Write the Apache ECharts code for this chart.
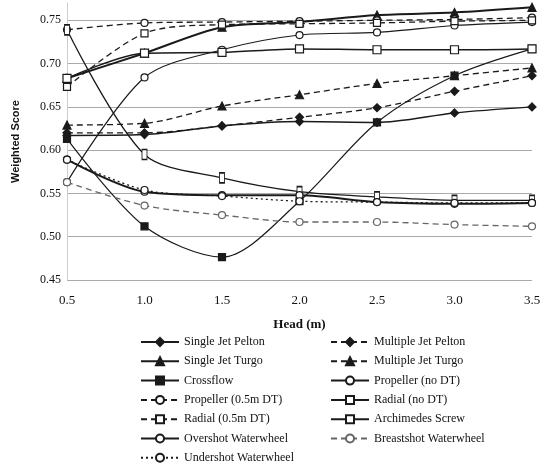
<!DOCTYPE html>
<html>
<head>
<meta charset="utf-8">
<script src="https://cdn.jsdelivr.net/npm/echarts@6/dist/echarts.min.js"></script>
<style>html,body{margin:0;padding:0;background:#fff;}#c{width:545px;height:474px;}</style>
</head>
<body>
<div id="c"></div>
<script>
const heads = [0.5, 1.0, 1.5, 2.0, 2.5, 3.0, 3.5];
const yTicks = [0.45, 0.50, 0.55, 0.60, 0.65, 0.70, 0.75];

const singleJetPelton   = [0.617, 0.618, 0.628, 0.633, 0.632, 0.643, 0.650];
const multipleJetPelton = [0.620, 0.620, 0.628, 0.638, 0.649, 0.668, 0.686];
const singleJetTurgo    = [0.683, 0.712, 0.742, 0.748, 0.756, 0.759, 0.765];
const multipleJetTurgo  = [0.629, 0.631, 0.651, 0.664, 0.677, 0.686, 0.695];
const crossflow         = [0.613, 0.512, 0.4765, 0.541, 0.632, 0.686, 0.717];
const propellerNoDT     = [0.563, 0.684, 0.716, 0.733, 0.736, 0.744, 0.748];
const propeller05DT     = [0.739, 0.747, 0.748, 0.749, 0.750, 0.751, 0.753];
const radialNoDT        = [0.683, 0.712, 0.713, 0.717, 0.716, 0.716, 0.717];
const radial05DT        = [0.673, 0.735, 0.745, 0.746, 0.747, 0.749, 0.750];
const archimedesScrew   = [0.739, 0.595, 0.568, 0.552, 0.546, 0.542, 0.542];
const overshotWheel     = [0.589, 0.552, 0.548, 0.548, 0.540, 0.538, 0.539];
const breastshotWheel   = [0.563, 0.536, 0.525, 0.517, 0.517, 0.514, 0.512];
const undershotWheel    = [0.589, 0.554, 0.547, 0.541, 0.540, 0.539, 0.539];

const names = {
  sjp: 'Single Jet Pelton', mjp: 'Multiple Jet Pelton',
  sjt: 'Single Jet Turgo', mjt: 'Multiple Jet Turgo',
  cf: 'Crossflow', pnd: 'Propeller (no DT)',
  p05: 'Propeller (0.5m DT)', rnd: 'Radial (no DT)',
  r05: 'Radial (0.5m DT)', as: 'Archimedes Screw',
  ow: 'Overshot Waterwheel', bw: 'Breastshot Waterwheel',
  uw: 'Undershot Waterwheel'
};

function pts(vals){ return heads.map((h,i)=>[h, vals[i]]); }

function mk(name, vals, o){
  const filled = o.filled;
  return {
    name: name, type: 'line', data: pts(vals), smooth: 0.3,
    symbol: o.symbol, symbolSize: o.size || 8,
    lineStyle: {color: o.color || '#1a1a1a', width: o.width || 1.3, type: o.dash || 'solid'},
    itemStyle: {color: filled ? (o.color || '#1a1a1a') : '#fff', borderColor: o.color || '#1a1a1a', borderWidth: 1.2},
    emphasis: {disabled: true}, animation: false, z: o.z || 2
  };
}

const dashed = [6, 4];
const series = [
  mk(names.sjp, singleJetPelton, {symbol:'diamond', filled:true, size:8, width:1.5}),
  mk(names.mjp, multipleJetPelton, {symbol:'diamond', filled:true, size:8, dash:dashed}),
  mk(names.sjt, singleJetTurgo, {symbol:'triangle', filled:true, size:8, width:2}),
  mk(names.mjt, multipleJetTurgo, {symbol:'triangle', filled:true, size:8, dash:dashed}),
  mk(names.cf, crossflow, {symbol:'rect', filled:true, size:7, width:1.2}),
  mk(names.pnd, propellerNoDT, {symbol:'circle', size:7, width:1.2}),
  mk(names.p05, propeller05DT, {symbol:'circle', size:7, dash:dashed}),
  mk(names.rnd, radialNoDT, {symbol:'rect', size:8, width:1.5}),
  mk(names.r05, radial05DT, {symbol:'rect', size:7, dash:dashed}),
  mk(names.as, archimedesScrew, {symbol:'rect', size:[5,10], width:1.3}),
  mk(names.ow, overshotWheel, {symbol:'circle', size:7, width:2}),
  mk(names.bw, breastshotWheel, {symbol:'circle', size:7, dash:dashed, color:'#666'}),
  mk(names.uw, undershotWheel, {symbol:'circle', size:7, dash:[2,3]})
];

const font = '"Liberation Serif", "DejaVu Serif", serif';
const legendCommon = {
  orient: 'vertical', itemWidth: 38, itemHeight: 10, itemGap: 7.3,
  textStyle: {fontFamily: font, fontSize: 12, color: '#111'},
  selectedMode: false
};

const chart = echarts.init(document.getElementById('c'));
chart.setOption({
  backgroundColor: '#fff',
  animation: false,
  grid: {left: 67, right: 13, top: 3, bottom: 194},
  xAxis: {
    type: 'value', min: 0.5, max: 3.5, interval: 0.5,
    name: 'Head (m)', nameLocation: 'middle', nameGap: 38,
    nameTextStyle: {fontFamily: font, fontWeight: 'bold', fontSize: 13, color: '#111'},
    axisLine: {show: false}, axisTick: {show: false},
    axisLabel: {fontFamily: font, fontSize: 13, color: '#111', margin: 14, formatter: v => v.toFixed(1)},
    splitLine: {show: false}
  },
  yAxis: {
    type: 'value', min: 0.45, max: 0.77, interval: 0.05,
    name: 'Weighted Score', nameLocation: 'middle', nameGap: 46,
    nameTextStyle: {fontFamily: '"Liberation Sans", Arial, sans-serif', fontWeight: 'bold', fontSize: 11, color: '#111'},
    axisLine: {show: true, lineStyle: {color: '#ccc', width: 1}}, axisTick: {show: false},
    axisLabel: {fontFamily: font, fontSize: 12, color: '#111', margin: 6, showMaxLabel: false, formatter: v => v.toFixed(2)},
    splitLine: {show: true, showMaxLine: false, lineStyle: {color: '#aaa', width: 1}}
  },
  legend: [
    Object.assign({left: 135, top: 331, data: [names.sjp, names.sjt, names.cf, names.p05, names.r05, names.ow, names.uw]}, legendCommon),
    Object.assign({left: 325, top: 331, data: [names.mjp, names.mjt, names.pnd, names.rnd, names.as, names.bw]}, legendCommon)
  ],
  series: series
});
</script>
</body>
</html>
